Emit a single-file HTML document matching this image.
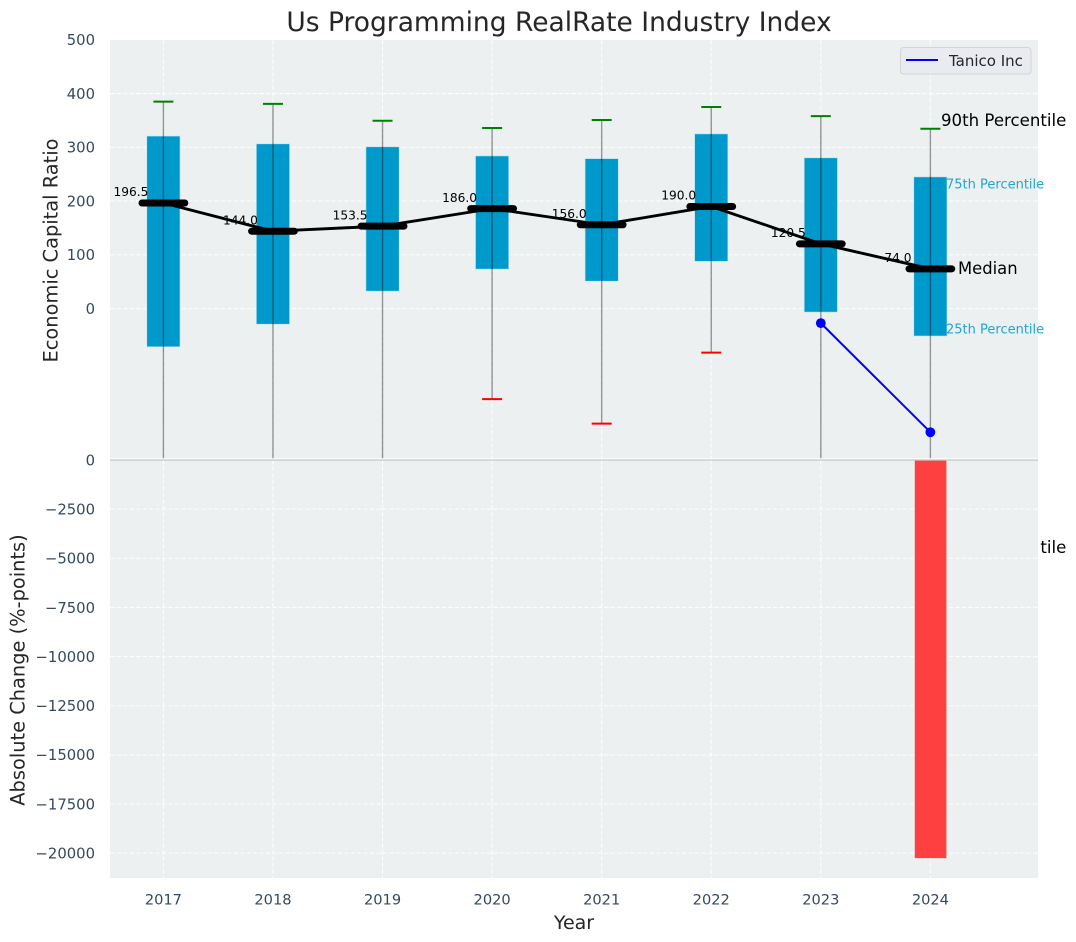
<!DOCTYPE html>
<html lang="en">
<head>
<meta charset="utf-8">
<title>Us Programming RealRate Industry Index</title>
<style>
html,body{margin:0;padding:0;background:#fff;width:1076px;height:942px;overflow:hidden}
svg{display:block;font-family:"DejaVu Sans","Liberation Sans",sans-serif}
</style>
</head>
<body>
<svg id="chart" xmlns="http://www.w3.org/2000/svg" width="1076" height="942" viewBox="0 0 1076 942">
  <defs>
    <clipPath id="clip-top"><rect x="110" y="40" width="928" height="419"></rect></clipPath>
    <clipPath id="clip-p10"><rect x="1040.4" y="530" width="36" height="40"></rect></clipPath>
  </defs>
  <rect x="110" y="40" width="928" height="420" fill="#ecf0f1"></rect>
  <g id="top-grid"></g>
  <g id="top-marks" clip-path="url(#clip-top)"></g>
  <text x="941" y="126" font-size="16.6" fill="#000">90th Percentile</text>
  <text x="941" y="553" font-size="16.6" fill="#000" clip-path="url(#clip-p10)">10th Percentile</text>
  <text x="946" y="188.5" font-size="13" fill="#1fa6d3">75th Percentile</text>
  <text x="946" y="333.5" font-size="13" fill="#1fa6d3">25th Percentile</text>
  <text x="958" y="274" font-size="16.4" fill="#000">Median</text>

  <rect x="110" y="460" width="928" height="418" fill="#ecf0f1"></rect>
  <g id="bottom-grid"></g>
  <g id="bottom-marks"></g>
  <line x1="110" x2="1038" y1="460" y2="460" stroke="#c6c6c6" stroke-width="1.3"></line>
  <line x1="110" x2="1038" y1="458.7" y2="458.7" stroke="#ffffff" stroke-width="1"></line>

  <g id="tick-labels"></g>

  <text x="559" y="31" font-size="26.5" fill="#262626" text-anchor="middle">Us Programming RealRate Industry Index</text>
  <text transform="translate(57.5,250.5) rotate(-90)" font-size="19.4" fill="#262626" text-anchor="middle">Economic Capital Ratio</text>
  <text transform="translate(24.5,670) rotate(-90)" font-size="19.4" fill="#262626" text-anchor="middle">Absolute Change (%-points)</text>
  <text x="574" y="929" font-size="19" fill="#262626" text-anchor="middle">Year</text>

  <g>
    <rect x="900.5" y="47.5" width="130.5" height="26.5" rx="3" fill="#e9ebf1" stroke="#d2d4d8" stroke-width="1"></rect>
    <line x1="906" x2="938" y1="60" y2="60" stroke="#0000ff" stroke-width="2"></line>
    <text x="949" y="66" font-size="15" fill="#262626">Tanico Inc</text>
  </g>
</svg>
<script>
var years = [2017, 2018, 2019, 2020, 2021, 2022, 2023, 2024];
var p10 = [-320, -320, -320, -168.5, -214, -82, -320, -320];
var p25 = [-71, -29, 32.5, 73.5, 51, 88, -6.5, -51];
var medians = [196.5, 144.0, 153.5, 186.0, 156.0, 190.0, 120.5, 74.0];
var p75 = [321, 306.5, 301, 284, 279, 325, 280.5, 245];
var p90 = [385, 381, 349.5, 336, 351, 375, 358, 334.5];
var tanicoYears = [2023, 2024];
var tanicoValues = [-27, -230];
var changeYears = [2024];
var changeValues = [-20250];
var topTicks = [500, 400, 300, 200, 100, 0];
var bottomTicks = [0, -2500, -5000, -7500, -10000, -12500, -15000, -17500, -20000];

var NS = 'http://www.w3.org/2000/svg';
function xPos(year) { return 163.4 + (year - 2017) * 109.57; }
function yTop(v) { return 308.6 - v * 0.5375; }
function yBottom(v) { return 460 - v * 0.01966; }
function make(tag, parent, attrs) {
  var el = document.createElementNS(NS, tag);
  for (var k in attrs) { el.setAttribute(k, attrs[k]); }
  parent.appendChild(el);
  return el;
}
function minusText(v) { return v < 0 ? '\u2212' + Math.abs(v) : String(v); }

var topGrid = document.getElementById('top-grid');
var bottomGrid = document.getElementById('bottom-grid');
var topMarks = document.getElementById('top-marks');
var bottomMarks = document.getElementById('bottom-marks');
var tickLabels = document.getElementById('tick-labels');
var gridStyle = { stroke: '#ffffff', 'stroke-width': 1.1, 'stroke-dasharray': '4.5 2', 'stroke-opacity': 0.85 };
function gridLine(parent, x1, y1, x2, y2) {
  var a = { x1: x1, y1: y1, x2: x2, y2: y2 };
  for (var k in gridStyle) { a[k] = gridStyle[k]; }
  return make('line', parent, a);
}

years.forEach(function (year) {
  var x = xPos(year);
  var g1 = gridLine(topGrid, x, 40, x, 459);
  
  
  var g2 = gridLine(bottomGrid, x, 460, x, 878);
  
  
  var t = make('text', tickLabels, { x: x, y: 904.5, 'font-size': 14.6, fill: '#34495e', 'text-anchor': 'middle' });
  t.textContent = String(year);
  
  
});

topTicks.forEach(function (v) {
  var y = yTop(v);
  if (v !== 500) {
    var g = gridLine(topGrid, 110, y, 1038, y);
    
    
  }
  var t = make('text', tickLabels, { x: 95, y: y + 5.3, 'font-size': 14.8, fill: '#34495e', 'text-anchor': 'end' });
  t.textContent = minusText(v);
  
  
});

bottomTicks.forEach(function (v) {
  var y = yBottom(v);
  if (v !== 0) {
    var g = gridLine(bottomGrid, 110, y, 1038, y);
    
    
  }
  var t = make('text', tickLabels, { x: 95, y: y + 5.3, 'font-size': 14.8, fill: '#34495e', 'text-anchor': 'end' });
  t.textContent = minusText(v);
  
  
});

years.forEach(function (year, i) {
  var x = xPos(year);
  var box = make('rect', topMarks, {
    x: x - 16.6, y: yTop(p75[i]), width: 33.2, height: yTop(p25[i]) - yTop(p75[i]),
    fill: '#0099cc', stroke: '#bfe3ef', 'stroke-width': 0.6
  });
  
  
});

years.forEach(function (year, i) {
  var x = xPos(year);
  var w = make('line', topMarks, {
    x1: x, x2: x, y1: yTop(p90[i]), y2: yTop(p10[i]), stroke: '#000000', 'stroke-opacity': 0.4, 'stroke-width': 1.4
  });
  
  
  var hi = make('line', topMarks, {
    x1: x - 10, x2: x + 10, y1: yTop(p90[i]), y2: yTop(p90[i]), stroke: '#008000', 'stroke-width': 2
  });
  
  
  var lo = make('line', topMarks, {
    x1: x - 10, x2: x + 10, y1: yTop(p10[i]), y2: yTop(p10[i]), stroke: '#ff0000', 'stroke-width': 2
  });
  
  
  var label = make('text', topMarks, {
    x: x - 32.5, y: yTop(medians[i]) - 6.8, 'font-size': 12.2, fill: '#000', 'text-anchor': 'middle'
  });
  label.textContent = medians[i].toFixed(1);
  
  
});

var medianPath = years.map(function (year, i) { return xPos(year) + ',' + yTop(medians[i]); }).join(' ');
var medianLine = make('polyline', topMarks, {
  points: medianPath, fill: 'none', stroke: '#000000', 'stroke-width': 2.9, 'stroke-linejoin': 'round'
});



years.forEach(function (year, i) {
  var x = xPos(year);
  var m = make('line', topMarks, {
    x1: x - 21.4, x2: x + 21.4, y1: yTop(medians[i]), y2: yTop(medians[i]),
    stroke: '#000000', 'stroke-width': 7, 'stroke-linecap': 'round'
  });
  
  
});

var tanicoPath = tanicoYears.map(function (year, i) { return xPos(year) + ',' + yTop(tanicoValues[i]); }).join(' ');
var tanicoLine = make('polyline', topMarks, {
  points: tanicoPath, fill: 'none', stroke: '#0000ff', 'stroke-width': 2
});


tanicoYears.forEach(function (year, i) {
  var p = make('circle', topMarks, { cx: xPos(year), cy: yTop(tanicoValues[i]), r: 4.9, fill: '#0000ff' });
  
  
});

changeYears.forEach(function (year, i) {
  var bar = make('rect', bottomMarks, {
    x: xPos(year) - 15.6, y: yBottom(0), width: 31.6, height: yBottom(changeValues[i]) - yBottom(0), fill: '#ff4040'
  });
  
  
});
</script>
</body>
</html>
